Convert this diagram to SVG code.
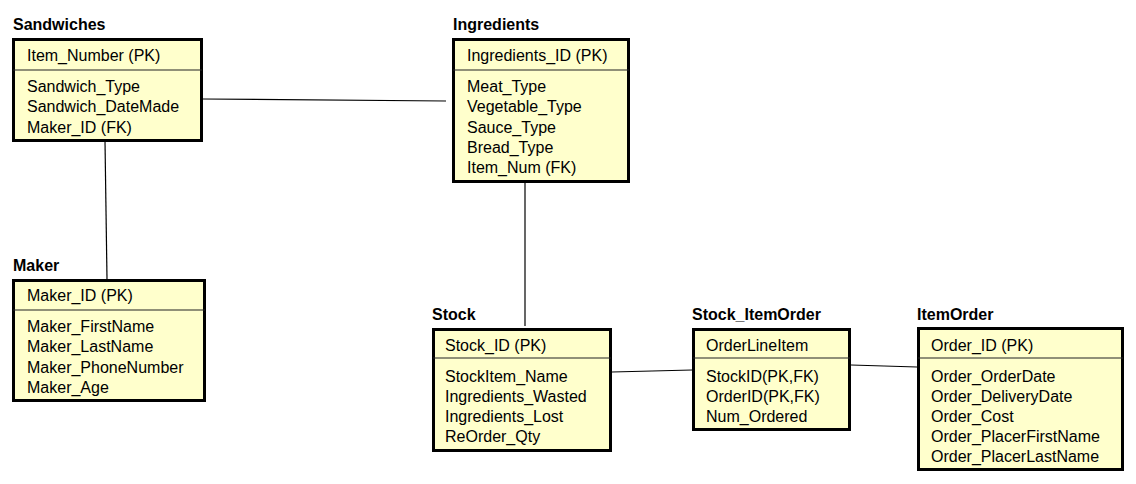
<svg xmlns="http://www.w3.org/2000/svg" width="1136" height="484" viewBox="0 0 1136 484">
<style>
.box{fill:#ffffcc;stroke:#000;stroke-width:3}
.sep{stroke:#222;stroke-width:1.2}
.t{font-family:"Liberation Sans",Arial,sans-serif;font-size:16px;fill:#000}
.h{font-family:"Liberation Sans",Arial,sans-serif;font-size:16px;font-weight:bold;fill:#000}
.c{stroke:#000;stroke-width:1.2;fill:none}
</style>
<rect width="1136" height="484" fill="#fff"/>
<g id="connectors">
<line class="c" x1="203" y1="99" x2="446" y2="101"/>
<line class="c" x1="105" y1="141" x2="107" y2="279"/>
<line class="c" x1="525" y1="177" x2="525" y2="326"/>
<line class="c" x1="612" y1="372" x2="692" y2="370"/>
<line class="c" x1="851" y1="365" x2="917" y2="367"/>
</g>
<g id="sandwiches">
<text class="h" x="13" y="30">Sandwiches</text>
<rect class="box" x="13.5" y="39.5" width="188" height="101"/>
<line class="sep" x1="13" y1="70" x2="202" y2="70"/>
<text class="t" x="27" y="61">Item_Number (PK)</text>
<text class="t" x="27" y="92">Sandwich_Type</text>
<text class="t" x="27" y="112">Sandwich_DateMade</text>
<text class="t" x="27" y="133">Maker_ID (FK)</text>
</g>
<g id="ingredients">
<text class="h" x="453" y="30">Ingredients</text>
<rect class="box" x="453.5" y="39.5" width="175" height="142"/>
<line class="sep" x1="453" y1="70" x2="629" y2="70"/>
<text class="t" x="467" y="61">Ingredients_ID (PK)</text>
<text class="t" x="467" y="92">Meat_Type</text>
<text class="t" x="467" y="112">Vegetable_Type</text>
<text class="t" x="467" y="133">Sauce_Type</text>
<text class="t" x="467" y="153">Bread_Type</text>
<text class="t" x="467" y="173">Item_Num (FK)</text>
</g>
<g id="maker">
<text class="h" x="13" y="271">Maker</text>
<rect class="box" x="13.5" y="280.5" width="191" height="120"/>
<line class="sep" x1="13" y1="310" x2="205" y2="310"/>
<text class="t" x="27" y="301">Maker_ID (PK)</text>
<text class="t" x="27" y="332">Maker_FirstName</text>
<text class="t" x="27" y="352">Maker_LastName</text>
<text class="t" x="27" y="373">Maker_PhoneNumber</text>
<text class="t" x="27" y="393">Maker_Age</text>
</g>
<g id="stock">
<text class="h" x="432" y="320">Stock</text>
<rect class="box" x="433.5" y="329.5" width="177" height="121"/>
<line class="sep" x1="433" y1="358" x2="611" y2="358"/>
<text class="t" x="445" y="351">Stock_ID (PK)</text>
<text class="t" x="445" y="382">StockItem_Name</text>
<text class="t" x="445" y="402">Ingredients_Wasted</text>
<text class="t" x="445" y="422">Ingredients_Lost</text>
<text class="t" x="445" y="442">ReOrder_Qty</text>
</g>
<g id="stock_itemorder">
<text class="h" x="692" y="320">Stock_ItemOrder</text>
<rect class="box" x="693.5" y="329.5" width="156" height="100"/>
<line class="sep" x1="693" y1="358" x2="850" y2="358"/>
<text class="t" x="706" y="351">OrderLineItem</text>
<text class="t" x="706" y="382">StockID(PK,FK)</text>
<text class="t" x="706" y="402">OrderID(PK,FK)</text>
<text class="t" x="706" y="422">Num_Ordered</text>
</g>
<g id="itemorder">
<text class="h" x="917" y="320">ItemOrder</text>
<rect class="box" x="918.5" y="328.5" width="204" height="141"/>
<line class="sep" x1="918" y1="358" x2="1123" y2="358"/>
<text class="t" x="931" y="351">Order_ID (PK)</text>
<text class="t" x="931" y="382">Order_OrderDate</text>
<text class="t" x="931" y="402">Order_DeliveryDate</text>
<text class="t" x="931" y="422">Order_Cost</text>
<text class="t" x="931" y="442">Order_PlacerFirstName</text>
<text class="t" x="931" y="462">Order_PlacerLastName</text>
</g>
</svg>
